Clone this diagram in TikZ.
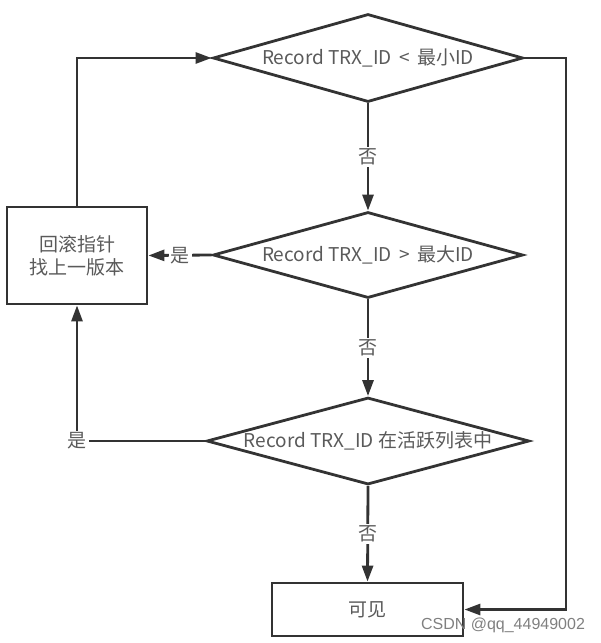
\documentclass[tikz,border=0pt]{standalone}
\usepackage{fontspec}
\newfontfamily\cjk{Noto Sans CJK SC}
\newfontfamily\wmfont{Liberation Sans}
\usetikzlibrary{shapes.geometric,arrows.meta}
\definecolor{linec}{HTML}{333333}
\definecolor{textc}{HTML}{5A5A5A}
\definecolor{wmc}{HTML}{808080}
\begin{document}
\begin{tikzpicture}[x=1pt,y=-1pt,
  every node/.style={font=\cjk\fontsize{19}{23}\selectfont, text=textc},
  dec/.style={diamond, draw=linec, line width=2.8pt, aspect=4, inner sep=0pt},
  box/.style={rectangle, draw=linec, line width=2.8pt, inner sep=0pt, align=center},
  flow/.style={draw=linec, line width=2.8pt, -{Triangle[length=16pt,width=11pt]}},
  lab/.style={fill=white, inner sep=2pt}
]
\useasboundingbox (0,0) rectangle (601,643);
\node[dec, minimum width=310pt, minimum height=88pt] (d1) at (368,58) {Record TRX\_ID \,<\, 最小ID};
\node[dec, minimum width=310pt, minimum height=86pt] (d2) at (368,255) {Record TRX\_ID \,>\, 最大ID};
\node[dec, minimum width=314pt, minimum height=87pt] (d3) at (368,441) {Record TRX\_ID 在活跃列表中};
\node[box, minimum width=140pt, minimum height=97pt] (b1) at (77,255.5) {回滚指针\\找上一版本};
\node[box, minimum width=191pt, minimum height=53pt] (b2) at (367.5,609.5) {可见};
\node[font=\wmfont\fontsize{16}{18}\selectfont, text=wmc, inner sep=0pt] (wm) at (503,625) {CSDN @qq\_44949002};

\draw[flow] (d1.south) -- node[lab] (n1) {否} (d2.north);
\draw[flow] (d2.south) -- node[lab] (n2) {否} (d3.north);
\draw[flow] (d3.south) -- node[lab] (n3) {否} (b2.north);
\draw[flow] (d2.west) -- node[lab] (y1) {是} (b1.east);
\draw[flow] (d3.west) -| node[lab, pos=0.5] (y2) {是} (b1.south);
\draw[flow] (b1.north) |- (d1.west);
\coordinate (r1) at (566,58);
\draw[flow] (d1.east) -- (r1) |- (b2.east);
\end{tikzpicture}
\end{document}
